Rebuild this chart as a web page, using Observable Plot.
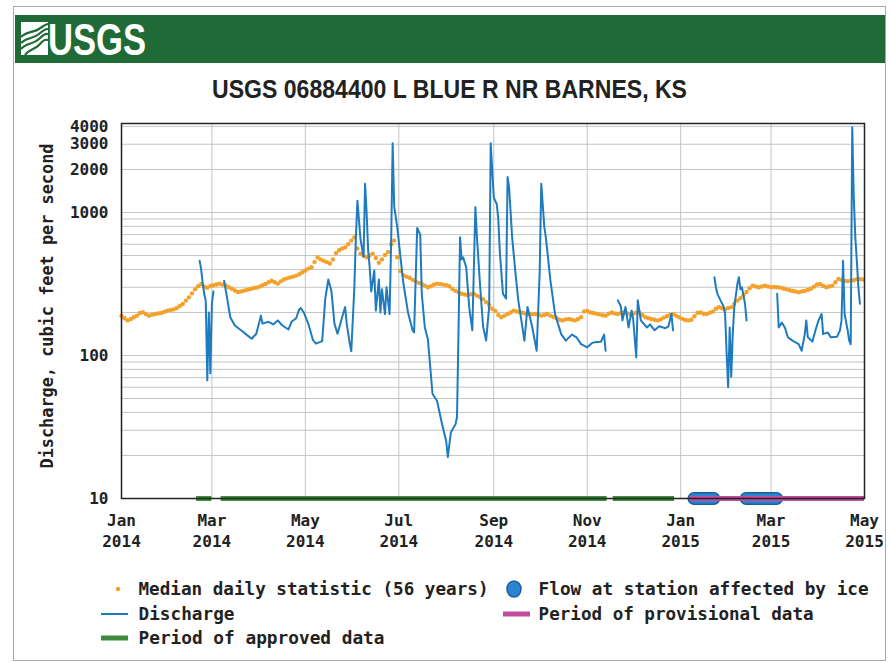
<!DOCTYPE html>
<html><head><meta charset="utf-8">
<script src="https://cdn.jsdelivr.net/npm/d3@7"></script>
<script src="https://cdn.jsdelivr.net/npm/@observablehq/plot@0.6"></script>
<style>
html,body{margin:0;padding:0;background:#fff;}
#page{position:relative;width:891px;height:663px;overflow:hidden;background:#fff;}
#frame{position:absolute;left:13px;top:6px;width:873px;height:655px;border:1px solid #a8a8a8;box-sizing:border-box;}
#banner{position:absolute;left:15px;top:15px;width:870px;height:48px;background:#1f6a36;}
#chart{position:absolute;left:0;top:100px;}
#overlay{position:absolute;left:0;top:0;pointer-events:none;}
.lg{font-family:'DejaVu Sans Mono',monospace;font-weight:bold;font-size:17px;fill:#222;}
</style></head><body>
<div id="page">
  <div id="frame"></div>
  <div id="banner">
    <svg width="870" height="48">
      <rect x="6" y="7" width="27" height="33" fill="#fff"/>
      <path d="M6,22 C12,16 18,18 24,14 S31,9 33,9" stroke="#1f6a36" stroke-width="2.2" fill="none"/>
      <path d="M6,28 C12,22 18,24 24,19 S31,14 33,14" stroke="#1f6a36" stroke-width="2.2" fill="none"/>
      <path d="M6,34 C12,27 18,30 24,24 S31,19 33,19" stroke="#1f6a36" stroke-width="2.2" fill="none"/>
      <path d="M10,40 C15,33 20,35 25,29 S31,25 33,25" stroke="#1f6a36" stroke-width="2.2" fill="none"/>
      <text x="33" y="40" fill="#fff" font-family="'Liberation Sans Narrow','Liberation Sans',sans-serif" font-weight="bold" font-size="44" textLength="98" lengthAdjust="spacingAndGlyphs">USGS</text>
    </svg>
  </div>
  <div id="chart"></div>
  <svg id="overlay" width="891" height="663">
    <text x="449.5" y="98" text-anchor="middle" fill="#222" font-family="'Liberation Sans Narrow','Liberation Sans',sans-serif" font-weight="bold" font-size="25" textLength="475" lengthAdjust="spacingAndGlyphs">USGS 06884400 L BLUE R NR BARNES, KS</text>
    <text class="lg" transform="translate(53,306) rotate(-90)" text-anchor="middle" textLength="325" lengthAdjust="spacingAndGlyphs">Discharge, cubic feet per second</text>
    <circle cx="118" cy="589" r="2.2" fill="#f5a02a"/>
    <text class="lg" x="138.5" y="595" textLength="350" lengthAdjust="spacingAndGlyphs">Median daily statistic (56 years)</text>
    <ellipse cx="514" cy="589" rx="7" ry="8" fill="#2b84d0" stroke="#1a5f9e" stroke-width="1.5"/>
    <text class="lg" x="538.6" y="595" textLength="330" lengthAdjust="spacingAndGlyphs">Flow at station affected by ice</text>
    <line x1="101" x2="128" y1="614" y2="614" stroke="#1f7bbf" stroke-width="2"/>
    <text class="lg" x="138.5" y="620" textLength="96" lengthAdjust="spacingAndGlyphs">Discharge</text>
    <rect x="503" y="611.5" width="27" height="5" fill="#c24d9f"/>
    <text class="lg" x="538.6" y="620" textLength="275" lengthAdjust="spacingAndGlyphs">Period of provisional data</text>
    <rect x="101" y="635.5" width="27" height="5" fill="#3c8c3c"/>
    <text class="lg" x="138.5" y="644" textLength="246" lengthAdjust="spacingAndGlyphs">Period of approved data</text>
  </svg>
</div>
<script>
// ---- data ----
const xTickDates = ["2014-01-01","2014-03-01","2014-05-01","2014-07-01","2014-09-01","2014-11-01","2015-01-01","2015-03-01","2015-05-01"];
const yTickValues = [10, 100, 1000, 2000, 3000, 4000];
const yGridValues = [20,30,40,50,60,70,80,90,100,200,300,400,500,600,700,800,900,1000,2000,3000,4000];

// Median daily statistic (56 years), one value every 2 days starting 2014-01-01
const medianStart = "2014-01-01";
const medianStepDays = 2;
const medianCfs = [
  190,182,176,180,185,190,198,201,194,190,
  193,195,197,198,202,206,208,210,215,222,
  229,242,255,272,290,305,316,303,298,306,
  310,314,318,312,308,300,293,285,278,280,
  284,288,292,295,298,303,310,316,325,333,
  325,318,330,340,346,352,356,362,370,382,
  393,405,414,450,485,470,460,450,440,470,
  520,545,560,570,600,636,670,560,516,500,
  486,500,516,480,445,470,505,530,600,636,
  486,390,365,356,350,338,330,322,316,308,
  300,305,314,318,316,313,310,305,292,283,
  276,270,267,265,268,270,262,256,248,236,
  226,212,205,192,185,190,195,200,206,203,
  201,199,196,195,194,195,193,190,192,195,
  190,186,182,178,176,179,180,178,176,180,
  185,203,205,200,198,196,194,191,190,196,
  200,197,195,198,200,197,195,197,199,200,
  192,185,182,180,178,176,179,184,188,193,
  195,190,185,181,177,176,178,188,199,200,
  196,195,199,203,212,218,214,210,215,218,
  230,242,252,265,278,295,308,304,300,304,
  308,304,300,302,300,298,294,290,286,283,
  280,277,280,283,288,293,303,314,316,306,
  300,304,308,325,343,338,333,331,333,336,
  342,343,340
];

// Discharge (cfs); null marks a break in the record
const dischargeDates = [
  "2014-02-21","2014-02-22","2014-02-23","2014-02-24","2014-02-25","2014-02-26","2014-02-27","2014-02-28","2014-03-01","2014-03-02",
  "2014-03-05",
  "2014-03-09","2014-03-11","2014-03-13","2014-03-16","2014-03-20","2014-03-25","2014-03-27","2014-03-30","2014-04-02","2014-04-03",
  "2014-04-07","2014-04-10","2014-04-13","2014-04-16","2014-04-20","2014-04-22","2014-04-25","2014-04-27","2014-04-28","2014-04-30",
  "2014-05-03","2014-05-06","2014-05-08","2014-05-12","2014-05-14","2014-05-16","2014-05-18","2014-05-20","2014-05-22","2014-05-25",
  "2014-05-27","2014-05-28","2014-05-30","2014-05-31","2014-06-02","2014-06-03","2014-06-04","2014-06-06","2014-06-08","2014-06-09",
  "2014-06-10","2014-06-11","2014-06-12","2014-06-13","2014-06-15","2014-06-16","2014-06-18","2014-06-19","2014-06-20","2014-06-22",
  "2014-06-23","2014-06-25","2014-06-26","2014-06-27","2014-06-28","2014-06-30","2014-07-02","2014-07-04","2014-07-07","2014-07-10",
  "2014-07-11","2014-07-13","2014-07-15","2014-07-16","2014-07-18","2014-07-20","2014-07-23","2014-07-26","2014-07-29","2014-08-01",
  "2014-08-02","2014-08-04","2014-08-07","2014-08-08","2014-08-09","2014-08-10","2014-08-11","2014-08-12","2014-08-14","2014-08-16",
  "2014-08-18","2014-08-20","2014-08-21","2014-08-23","2014-08-25","2014-08-27","2014-08-29","2014-08-30","2014-09-01","2014-09-03",
  "2014-09-04","2014-09-05","2014-09-07","2014-09-09","2014-09-10","2014-09-11","2014-09-13","2014-09-15","2014-09-17","2014-09-19",
  "2014-09-21","2014-09-23","2014-09-26","2014-09-29","2014-10-01","2014-10-02","2014-10-04","2014-10-05","2014-10-08","2014-10-11",
  "2014-10-15","2014-10-18","2014-10-22","2014-10-25","2014-10-28","2014-11-01","2014-11-04","2014-11-06","2014-11-10","2014-11-12",
  "2014-11-13",
  "2014-11-17",
  "2014-11-21","2014-11-23","2014-11-24","2014-11-26","2014-11-28","2014-11-30","2014-12-01","2014-12-03","2014-12-04","2014-12-06",
  "2014-12-10","2014-12-12","2014-12-15","2014-12-18","2014-12-22","2014-12-24","2014-12-26","2014-12-27",
  "2015-01-10",
  "2015-01-23","2015-01-24","2015-01-25","2015-01-27","2015-01-29","2015-01-30","2015-01-31","2015-02-01","2015-02-02","2015-02-03",
  "2015-02-04","2015-02-05","2015-02-07","2015-02-08","2015-02-09","2015-02-10","2015-02-12","2015-02-13",
  "2015-02-25",
  "2015-03-05","2015-03-06","2015-03-08","2015-03-10","2015-03-12","2015-03-15","2015-03-19","2015-03-21","2015-03-23","2015-03-24",
  "2015-03-25","2015-03-28","2015-03-30","2015-04-01","2015-04-03","2015-04-04","2015-04-07","2015-04-09","2015-04-13","2015-04-15",
  "2015-04-16","2015-04-17","2015-04-18","2015-04-20","2015-04-21","2015-04-22","2015-04-23","2015-04-24","2015-04-25","2015-04-26",
  "2015-04-27","2015-04-28"
];
const dischargeCfs = [
  460,400,320,270,240,67,200,75,230,280,
  null,
  333,250,185,162,150,136,131,142,190,167,
  172,165,176,162,152,172,182,210,215,200,
  166,128,121,126,250,340,283,167,142,185,
  218,167,121,107,300,670,1210,650,490,1590,
  1000,543,414,280,393,206,340,200,290,195,
  300,195,607,3050,1100,790,500,320,200,150,
  145,780,700,270,157,130,54,48,34,25,
  19.5,29,33,37,150,670,470,486,414,215,
  150,1090,680,316,160,127,220,3050,1275,1140,
  880,520,270,250,1770,1500,670,393,243,176,
  127,218,160,108,393,1590,790,670,333,195,
  141,127,140,134,120,114,122,124,125,140,
  108,
  null,
  243,220,176,218,157,206,180,97,243,176,
  157,165,150,160,155,160,195,150,
  null,
  353,300,270,243,220,195,103,60,157,71,
  141,218,316,353,290,300,230,176,
  null,
  270,157,170,157,134,127,120,108,141,176,
  134,125,150,176,195,141,145,134,135,150,
  176,460,195,150,127,120,3950,1275,670,460,
  300,230
];

const approvedStart = ["2014-02-19","2014-03-07","2014-11-18"];
const approvedEnd   = ["2014-03-01","2014-11-14","2014-12-28"];
const provisionalStart = ["2015-01-07"];
const provisionalEnd   = ["2015-05-01"];
const iceStart = ["2015-01-10","2015-02-13"];
const iceEnd   = ["2015-01-23","2015-03-05"];

const monthNames = ["Jan","Feb","Mar","Apr","May","Jun","Jul","Aug","Sep","Oct","Nov","Dec"];

// ---- build tables ----
const parse = s => new Date(s + "T00:00:00Z");
const median = medianCfs.map((v, i) => ({date: d3.utcDay.offset(parse(medianStart), i * medianStepDays), value: v}));
const discharge = dischargeDates.map((d, i) => ({date: parse(d), value: dischargeCfs[i]}));
const periods = (s, e) => s.map((d, i) => ({start: parse(d), end: parse(e[i])}));
const approved = periods(approvedStart, approvedEnd);
const provisional = periods(provisionalStart, provisionalEnd);
const ice = periods(iceStart, iceEnd);
const xTicks = xTickDates.map(parse);

const chart = Plot.plot({
  width: 891, height: 470,
  marginLeft: 121, marginRight: 27, marginTop: 23, marginBottom: 72,
  style: {fontFamily: "'DejaVu Sans Mono', monospace", fontSize: "16px", fontWeight: "bold", color: "#222", background: "transparent"},
  x: {type: "utc", domain: [xTicks[0], xTicks[xTicks.length - 1]]},
  y: {type: "log", domain: [10, 4190]},
  marks: [
    Plot.ruleY(yGridValues, {stroke: "#c4c4c4", strokeWidth: 1}),
    Plot.ruleX(xTicks, {stroke: "#c4c4c4", strokeWidth: 1}),
    Plot.dot(median, {x: "date", y: "value", r: 2.2, fill: "#f4a12c"}),
    Plot.line(discharge, {x: "date", y: "value", stroke: "#1f7bbf", strokeWidth: 2}),
    Plot.ruleY(ice, {y: () => 10, x1: "start", x2: "end", stroke: "#1a5f9e", strokeWidth: 13, strokeLinecap: "round"}),
    Plot.ruleY(ice, {y: () => 10, x1: "start", x2: "end", stroke: "#2b84d0", strokeWidth: 10, strokeLinecap: "round"}),
    Plot.ruleY(approved, {y: () => 10, x1: "start", x2: "end", stroke: "#3c8c3c", strokeWidth: 5}),
    Plot.ruleY(provisional, {y: () => 10, x1: "start", x2: "end", stroke: "#c24d9f", strokeWidth: 5}),
    Plot.frame({stroke: "#222", strokeWidth: 1.5}),
    Plot.axisX({ticks: xTicks, tickFormat: d => `${monthNames[d.getUTCMonth()]}\n${d.getUTCFullYear()}`, tickSize: 0, tickPadding: 13, lineHeight: 1.3, label: null}),
    Plot.axisY({ticks: yTickValues, tickFormat: d => String(d), tickSize: 0, tickPadding: 13, label: null})
  ]
});
document.getElementById("chart").appendChild(chart);
</script>
</body></html>
